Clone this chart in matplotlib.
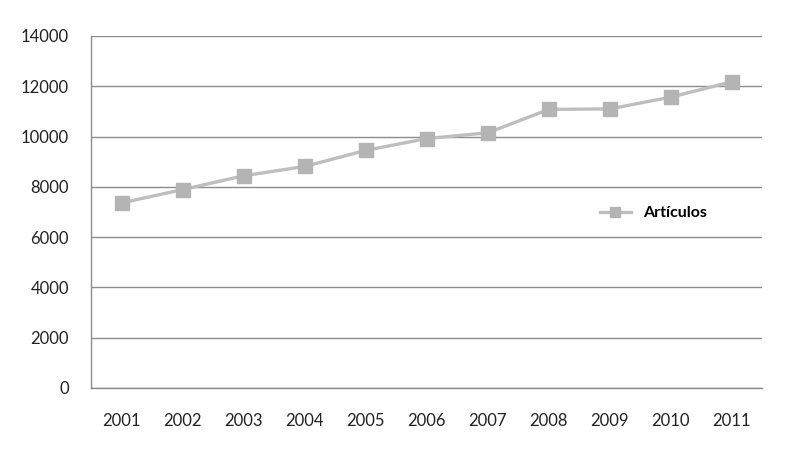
import matplotlib.pyplot as plt
import numpy as np

# data
years = ['2001', '2002', '2003', '2004', '2005', '2006',
         '2007', '2008', '2009', '2010', '2011']
articulos = [7360, 7890, 8440, 8810, 9450, 9920,
             10150, 11080, 11100, 11570, 12180]
yticks = [0, 2000, 4000, 6000, 8000, 10000, 12000, 14000]

plt.rcParams['font.family'] = ['Lato', 'DejaVu Sans']

fig = plt.figure(figsize=(8, 4.5), dpi=100)
ax = fig.add_axes([0.114, 0.138, 0.839, 0.782])

x = np.arange(len(years))
ax.plot(x, articulos, color='#bebebe', lw=2.4, marker='s', ms=10,
        markerfacecolor='#b4b4b4', markeredgecolor='#b4b4b4', label='Artículos')

ax.set_xlim(-0.5, len(years) - 0.5)
ax.set_ylim(0, 14000)
ax.set_xticks(x)
ax.set_xticklabels(years)
ax.set_yticks(yticks)
ax.yaxis.grid(True, color='#8c8c8c', lw=1)
ax.set_axisbelow(True)

for s in ['top', 'right']:
    ax.spines[s].set_visible(False)
for s in ['left', 'bottom']:
    ax.spines[s].set_color('#8c8c8c')
    ax.spines[s].set_linewidth(1)

ax.tick_params(length=0, labelsize=12, colors='#222222')
ax.tick_params(axis='x', pad=18)
ax.tick_params(axis='y', pad=16)

leg = ax.legend(loc='center left', bbox_to_anchor=(0.737, 0.497), frameon=False,
                handlelength=1.9, markerscale=0.7,
                prop={'weight': 'bold', 'size': 11.5})

fig.savefig('out.png', dpi=100)
